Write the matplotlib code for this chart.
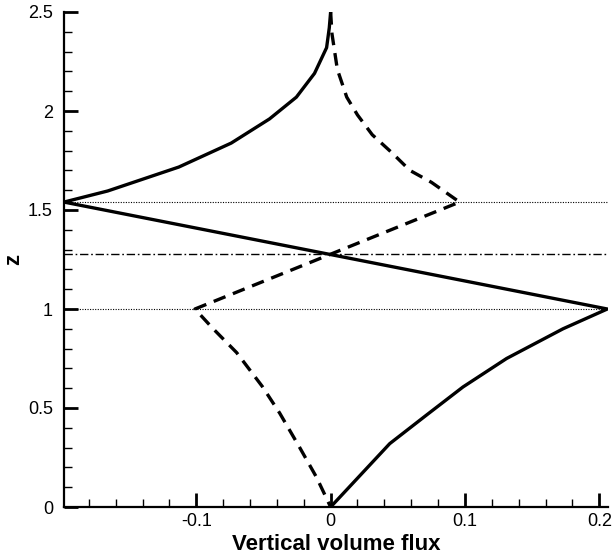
import matplotlib.pyplot as plt
from matplotlib.ticker import MultipleLocator, FormatStrFormatter

plt.rcParams['font.family'] = ['Liberation Sans', 'DejaVu Sans']
plt.rcParams['axes.unicode_minus'] = False

# solid curve (x = flux, z = height)
solid_x = [0.0, -0.001, -0.003, -0.012, -0.0255, -0.0455, -0.074, -0.113, -0.166, -0.1985,
           0.206, 0.173, 0.131, 0.0985, 0.0715, 0.044, 0.0]
solid_z = [2.5, 2.42, 2.32, 2.19, 2.07, 1.96, 1.838, 1.717, 1.596, 1.54,
           1.0, 0.90, 0.75, 0.606, 0.465, 0.32, 0.0]

# dashed curve
dash_x = [0.0, 0.001, 0.005, 0.012, 0.020, 0.031, 0.0455, 0.059, 0.075, 0.096,
          -0.101, -0.088, -0.070, -0.051, -0.038, -0.023, -0.0105, 0.0]
dash_z = [2.5, 2.39, 2.21, 2.07, 1.98, 1.88, 1.79, 1.70, 1.64, 1.54,
          1.0, 0.904, 0.78, 0.61, 0.475, 0.30, 0.15, 0.0]

dotted_levels = [1.0, 1.54]
dashdot_level = 1.28

xticks = [-0.1, 0, 0.1, 0.2]
xticklabels = ['-0.1', '0', '0.1', '0.2']


def main():
    fig = plt.figure(figsize=(6.12, 5.59), dpi=100)
    ax = fig.add_axes([64 / 612, 52 / 559, (608 - 64) / 612, (507 - 12) / 559])

    for lev in dotted_levels:
        ax.axhline(lev, color='black', lw=0.8, linestyle=(0, (1, 1.3)))
    ax.axhline(dashdot_level, color='black', lw=1.0, linestyle=(0, (6, 2, 1.2, 2)))

    ax.plot(solid_x, solid_z, color='black', lw=2.4, solid_joinstyle='miter')
    ax.plot(dash_x, dash_z, color='black', lw=2.4, linestyle=(0, (3.8, 2.4)))

    ax.set_xlim(-0.1985, 0.2065)
    ax.set_ylim(0, 2.5)

    ax.spines['top'].set_visible(False)
    ax.spines['right'].set_visible(False)
    for s in ['left', 'bottom']:
        ax.spines[s].set_linewidth(1.6)

    ax.set_xticks(xticks)
    ax.set_xticklabels(xticklabels)
    ax.xaxis.set_minor_locator(MultipleLocator(0.02))
    ax.yaxis.set_major_locator(MultipleLocator(0.5))
    ax.yaxis.set_major_formatter(FormatStrFormatter('%g'))
    ax.yaxis.set_minor_locator(MultipleLocator(0.1))

    ax.tick_params(which='major', direction='in', length=10, width=2.0,
                   labelsize=13, color='black')
    ax.tick_params(axis='x', which='major', pad=4.5)
    ax.tick_params(axis='y', which='major', pad=8)
    ax.tick_params(which='minor', direction='in', length=6, width=1.0)
    ax.tick_params(top=False, right=False, which='both')

    ax.set_xlabel('Vertical volume flux', fontsize=16, fontweight='bold', labelpad=3)
    ax.set_ylabel('z', fontsize=16, fontweight='bold', labelpad=3)

    plt.savefig('out.png', dpi=100)


if __name__ == "__main__":
    main()
